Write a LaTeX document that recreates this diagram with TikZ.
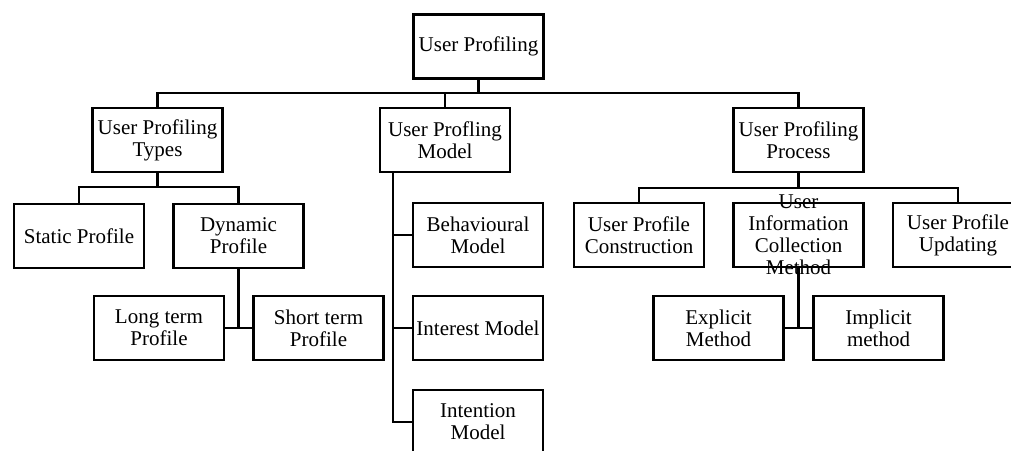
\documentclass[tikz,border=0pt]{standalone}
\usepackage{fontspec}
\setmainfont{Liberation Serif}
\begin{document}
\begin{tikzpicture}[x=1pt,y=-1pt,
  box/.style={draw,line width=2.4pt,minimum width=130pt,minimum height=64pt,
    inner sep=0pt,align=center,font=\fontsize{21}{22}\selectfont},
  txt/.style={inner sep=0pt,align=center,font=\fontsize{21}{22}\selectfont},
  link/.style={line width=2.4pt}]
\useasboundingbox (0,0) rectangle (1011,450);
\clip (0,0) rectangle (1011,450);

% root
\node[box] (root) at (478.5,46.5) {User Profiling};

% second level
\node[box] (types)   at (157.5,140) {User Profiling\\Types};
\node[box] (model)   at (445,140)   {User Profling\\Model};
\node[box] (process) at (798.5,140) {User Profiling\\Process};

% profile types
\node[box] (static)  at (79,236)    {Static Profile};
\node[box] (dynamic) at (238.5,236) {Dynamic\\Profile};
\node[box] (longt)   at (159,328)   {Long term\\Profile};
\node[box] (shortt)  at (318.5,328) {Short term\\Profile};

% profiling models
\node[box] (behav)     at (478,235) {Behavioural\\Model};
\node[box] (interest)  at (478,328) {Interest Model};
\node[box] (intention) at (478,422) {Intention\\Model};

% profiling process
\node[box] (constr) at (639,235)   {User Profile\\Construction};
\node[box] (info)   at (798.5,235) {};
\node[txt] (infotxt) at (info.center) {User\\Information\\Collection\\Method};
\node[box] (upd)    at (958,235)   {User Profile\\Updating};
\node[box] (expl)   at (718.5,328) {Explicit\\Method};
\node[box] (impl)   at (878.5,328) {Implicit\\method};

% top-level bus
\coordinate (busA) at (0,93);
\draw[link] (root.south) -- (root.south |- busA);
\draw[link] (types.north) |- (process.north |- busA) -- (process.north);
\draw[link] (model.north) -- (model.north |- busA);

% types branch
\coordinate (busB) at (0,187);
\draw[link] (types.south) -- (types.south |- busB);
\draw[link] (static.north) |- (dynamic.north |- busB) -- (dynamic.north);
\coordinate (dynj) at (dynamic.south |- longt.east);
\draw[link] (dynamic.south) -- (dynj);
\draw[link] (longt.east) -- (shortt.west);

% model branch
\coordinate (mtop) at (393,0);
\draw[link] (mtop |- model.south) -- (mtop |- intention.west) -- (intention.west);
\draw[link] (mtop |- behav.west) -- (behav.west);
\draw[link] (mtop |- interest.west) -- (interest.west);

% process branch
\coordinate (busC) at (0,188);
\draw[link] (process.south) -- (process.south |- busC);
\draw[link] (constr.north) |- (upd.north |- busC) -- (upd.north);
\coordinate (infj) at (info.south |- expl.east);
\draw[link] (info.south) -- (infj);
\draw[link] (expl.east) -- (impl.west);
\end{tikzpicture}
\end{document}
